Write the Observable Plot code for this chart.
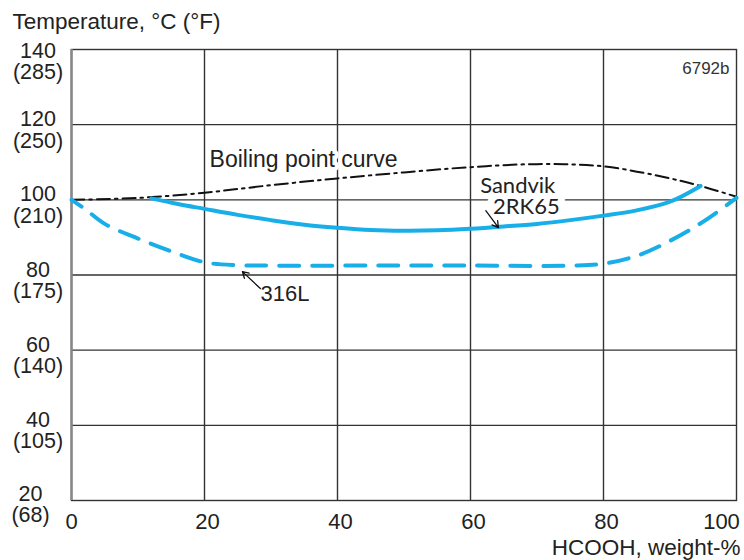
<!DOCTYPE html>
<html>
<head>
<meta charset="utf-8">
<script src="https://cdn.jsdelivr.net/npm/d3@7"></script>
<script src="https://cdn.jsdelivr.net/npm/@observablehq/plot@0.6"></script>
<style>
  html, body { margin: 0; padding: 0; background: #fff; }
  #chart svg { display: block; }
</style>
</head>
<body>
<div id="chart"></div>
<script>
// ---- data ----
const yTicksC = [20, 40, 60, 80, 100, 120, 140];
const yTicksF = ["68", "105", "140", "175", "210", "250", "285"];
const xTicks = [0, 20, 40, 60, 80, 100];

const boilX = [0, 10, 20, 30, 40, 50, 60, 70, 80, 90, 95, 100];
const boilY = [100, 100.5, 101.9, 103.9, 105.7, 107.3, 108.7, 109.5, 108.9, 105.7, 103.5, 100.8];

const rk65X = [12, 16, 20, 25, 30, 35, 40, 45, 50, 55, 60, 65, 70, 75, 80, 85, 90, 94.6];
const rk65Y = [100.4, 98.9, 97.6, 96.0, 94.6, 93.4, 92.6, 92.0, 91.8, 91.9, 92.3, 92.9, 93.6, 94.6, 95.8, 97.2, 99.5, 103.7];

const l316X = [0, 2, 5, 10, 15, 20, 25, 30, 45, 60, 75, 80, 85, 90, 95, 100];
const l316Y = [100, 97.6, 93.6, 89.7, 86.3, 83.4, 82.6, 82.5, 82.5, 82.5, 82.5, 83.0, 85.1, 89.1, 94.2, 100.5];

const noteText = ["Boiling point curve", "Sandvik", "2RK65", "316L"];
const noteX = [34.9, 67.1, 68.4, 32.1];
const noteY = [108.86, 101.94, 96.36, 73.2];

const arrowX1 = [62.3, 28.4];
const arrowY1 = [97.1, 76.4];
const arrowX2 = [64.2, 25.7];
const arrowY2 = [92.6, 80.9];

// ---- build tables ----
const toPts = (xs, ys) => xs.map((x, i) => ({x, y: ys[i]}));
const boil = toPts(boilX, boilY);
const rk65 = toPts(rk65X, rk65Y);
const l316 = toPts(l316X, l316Y);
const fOf = d => yTicksF[yTicksC.indexOf(d)];
const yfmt = d => `${d}\n(${fOf(d)})`;
const arrows = arrowX1.map((x1, i) => ({x1, y1: arrowY1[i], x2: arrowX2[i], y2: arrowY2[i]}));
const notes = noteText.map((t, i) => ({t, x: noteX[i], y: noteY[i]}));

const FONT = "'Liberation Sans', Arial, Helvetica, sans-serif";
const LATO = "Lato, 'Liberation Sans', sans-serif";
const BLUE = "#18aee8";
const GRID = "#333";

const chart = Plot.plot({
  width: 744,
  height: 560,
  marginLeft: 71,
  marginRight: 8,
  marginTop: 49,
  marginBottom: 60,
  style: {fontFamily: FONT, fontSize: "22px", color: "#222", background: "#fff"},
  x: {domain: [0, 100]},
  y: {domain: [20, 140]},
  marks: [
    Plot.gridX(xTicks.slice(1, 5), {stroke: GRID, strokeOpacity: 1, strokeWidth: 1.4}),
    Plot.gridY(yTicksC.slice(1, 6), {stroke: GRID, strokeOpacity: 1, strokeWidth: 1.4}),
    Plot.frame({stroke: GRID, strokeWidth: 1.4}),
    Plot.ruleX([0], {stroke: "#888", strokeWidth: 2.5}),
    // y axis labels (two-line °C / °F)
    Plot.axisY(yTicksC.filter(d => d > 20 && d < 140), {tickSize: 0, tickPadding: 0, textAnchor: "middle", dx: -33.5, dy: 5.5, lineHeight: 1.0, tickFormat: yfmt, label: null, fontSize: 21.5}),
    Plot.axisY([140], {tickSize: 0, tickPadding: 0, textAnchor: "middle", dx: -33.5, dy: 12, lineHeight: 1.0, tickFormat: yfmt, label: null, fontSize: 21.5}),
    Plot.axisY([20], {tickSize: 0, tickPadding: 0, textAnchor: "middle", dx: -41, dy: 4, lineHeight: 1.0, tickFormat: yfmt, label: null, fontSize: 21.5}),
    // x axis labels
    Plot.axisX(xTicks.slice(0, 1), {tickSize: 0, tickPadding: 0, dy: 12.4, label: null, fontSize: 22}),
    Plot.axisX(xTicks.slice(1, 5), {tickSize: 0, tickPadding: 0, dx: 3, dy: 12.4, label: null, fontSize: 22}),
    Plot.axisX(xTicks.slice(5), {tickSize: 0, tickPadding: 0, dx: -15, dy: 12.4, label: null, fontSize: 22}),
    // titles
    Plot.text(["Temperature, °C (°F)"], {frameAnchor: "top-left", dx: -59, dy: -20.5, textAnchor: "start", lineAnchor: "bottom", fontSize: 22.5, fill: "#222"}),
    Plot.text(["HCOOH, weight-%"], {frameAnchor: "bottom-right", dx: 4, dy: 54, textAnchor: "end", lineAnchor: "bottom", fontSize: 22.5, fill: "#222"}),
    Plot.text(["6792b"], {frameAnchor: "top-right", dx: -7, dy: 24, textAnchor: "end", lineAnchor: "bottom", fontSize: 17, fill: "#333"}),
    // annotation text (white halo hides grid lines behind it)
    Plot.text(notes.slice(0, 1), {x: "x", y: "y", text: "t", textAnchor: "middle", lineAnchor: "bottom", fontSize: 23, fill: "#222", stroke: "#fff", strokeWidth: 8, paintOrder: "stroke"}),
    Plot.text(notes.slice(2, 3), {x: "x", y: "y", text: "t", textAnchor: "middle", lineAnchor: "bottom", fontSize: 22, fontFamily: LATO, fill: "#222", stroke: "#fff", strokeWidth: 14, paintOrder: "stroke"}),
    Plot.text(notes.slice(1, 2), {x: "x", y: "y", text: "t", textAnchor: "middle", lineAnchor: "bottom", fontSize: 22, fontFamily: LATO, fill: "#222"}),
    Plot.text(notes.slice(3), {x: "x", y: "y", text: "t", textAnchor: "middle", lineAnchor: "bottom", fontSize: 22, fill: "#222"}),
    // curves
    Plot.line(boil, {x: "x", y: "y", curve: "catmull-rom", stroke: "#111", strokeWidth: 2, strokeDasharray: "13,5,2.5,5"}),
    Plot.line(rk65, {x: "x", y: "y", curve: "catmull-rom", stroke: BLUE, strokeWidth: 4}),
    Plot.line(l316, {x: "x", y: "y", curve: "catmull-rom", stroke: BLUE, strokeWidth: 4, strokeDasharray: "20,13", strokeDashoffset: 8}),
    // arrows
    Plot.arrow(arrows, {x1: "x1", y1: "y1", x2: "x2", y2: "y2", stroke: "#111", strokeWidth: 1.3, headLength: 8})
  ]
});
document.getElementById("chart").appendChild(chart);
</script>
</body>
</html>
